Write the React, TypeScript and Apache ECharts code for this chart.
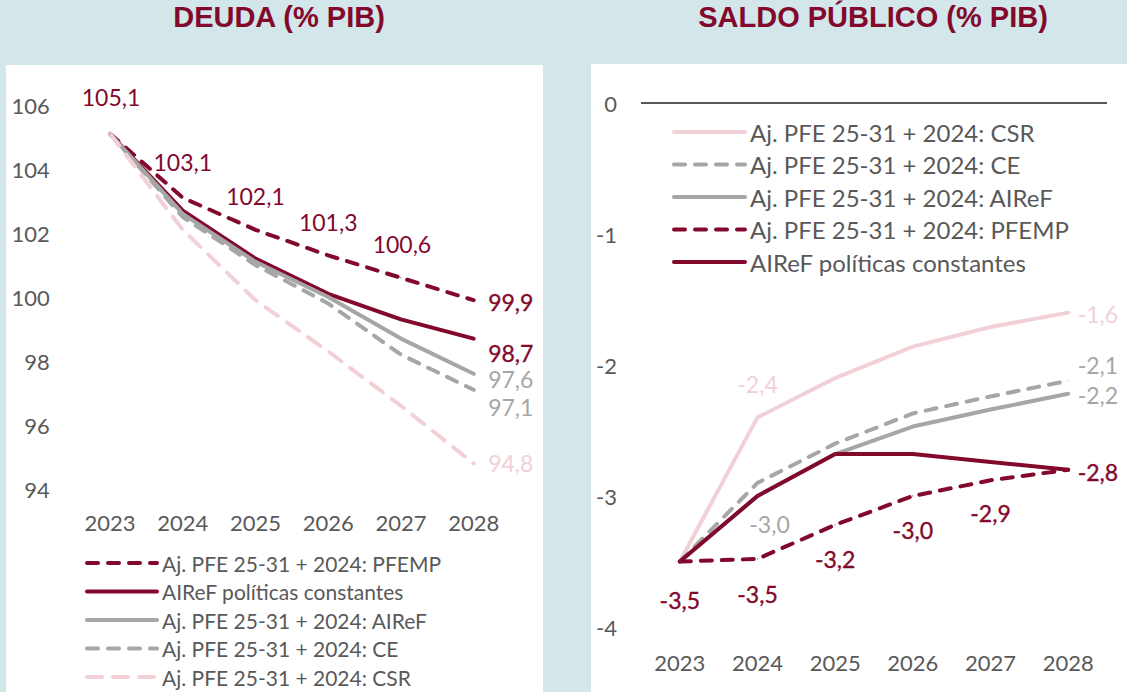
import React, { useEffect, useRef } from "react";
import * as echarts from "echarts";

// ---------- data ----------
const YEARS = ["2023", "2024", "2025", "2026", "2027", "2028"];

const N_PFEMP = "Aj. PFE 25-31 + 2024: PFEMP";
const N_CONST = "AIReF políticas constantes";
const N_AIREF = "Aj. PFE 25-31 + 2024: AIReF";
const N_CE = "Aj. PFE 25-31 + 2024: CE";
const N_CSR = "Aj. PFE 25-31 + 2024: CSR";

// Deuda (% PIB)
const DEBT_PFEMP = [105.1, 103.1, 102.1, 101.3, 100.6, 99.9];
const DEBT_CONST = [105.1, 102.7, 101.2, 100.1, 99.3, 98.7];
const DEBT_AIREF = [105.1, 102.6, 101.1, 100.0, 98.7, 97.6];
const DEBT_CE = [105.1, 102.5, 101.0, 99.8, 98.2, 97.1];
const DEBT_CSR = [105.1, 102.1, 99.9, 98.3, 96.6, 94.8];

// Saldo público (% PIB)
const BAL_CSR = [-3.5, -2.4, -2.1, -1.86, -1.71, -1.6];
const BAL_CE = [-3.5, -2.9, -2.6, -2.37, -2.24, -2.12];
const BAL_AIREF = [-3.5, -3.0, -2.68, -2.47, -2.34, -2.22];
const BAL_PFEMP = [-3.5, -3.48, -3.22, -3.0, -2.88, -2.8];
const BAL_CONST = [-3.5, -3.0, -2.68, -2.68, -2.74, -2.8];

const DEBT_AXIS = { min: 94, max: 106, interval: 2 };
const BAL_AXIS = { min: -4, max: 0, interval: 1 };

const TITLE_DEBT = "DEUDA (% PIB)";
const TITLE_BAL = "SALDO PÚBLICO (% PIB)";

// ---------- styles ----------
const FONT = "Lato";
const DARK = "#82092c";
const GREY = "#a6a6a6";
const PINK = "#f2d1d6";
const TXT = "#595959";
const BG = "#d3e6ea";

const DASH = [11, 10];
const DASH_PINK = [15, 11];

const fmt = (v: number) => v.toFixed(1).replace(".", ",");

type Lbl = { position: string; distance: number; offset?: number[]; bold?: boolean } | null;

function items(values: number[], labels: Lbl[], color: string) {
  return values.map((v, i) => {
    const l = labels[i];
    if (!l) return { value: v, label: { show: false } };
    return {
      value: v,
      label: {
        show: true,
        position: l.position,
        distance: l.distance,
        offset: l.offset || [0, 0],
        color,
        fontFamily: FONT,
        fontSize: 23,
        lineHeight: 23,
        fontWeight: "normal",
        textBorderColor: l.bold ? color : "transparent",
        textBorderWidth: l.bold ? 0.35 : 0,
        formatter: (p: any) => fmt(p.value),
      },
    };
  });
}

function line(
  name: string,
  values: number[],
  idx: number,
  color: string,
  type: any,
  labels: Lbl[]
) {
  return {
    name,
    type: "line",
    xAxisIndex: idx,
    yAxisIndex: idx,
    symbol: "circle",
    symbolSize: 1,
    showSymbol: true,
    showAllSymbol: true,
    silent: true,
    lineStyle: { color, width: 4, type, cap: "round", join: "round" },
    itemStyle: { color },
    label: { show: false },
    emphasis: { disabled: true },
    data: items(values, labels, color),
  };
}

const none6: Lbl[] = [null, null, null, null, null, null];
const endL = (offY: number, bold = false): Lbl[] => [
  null, null, null, null, null,
  { position: "right", distance: 14, offset: [0, offY], bold },
];
const endR = (offY: number, bold = false): Lbl[] => [
  null, null, null, null, null,
  { position: "right", distance: 9, offset: [0, offY], bold },
];

export default function App() {
  const ref = useRef<HTMLDivElement>(null);
  useEffect(() => {
    if (!ref.current) return;
    const chart = echarts.init(ref.current, undefined, { renderer: "svg" });

    const axisLabel = { color: TXT, fontFamily: FONT, fontSize: 22 };

    const leftSeries = [
      line(N_PFEMP, DEBT_PFEMP, 0, DARK, DASH, [
        { position: "top", distance: 23, offset: [1, -2] },
        { position: "top", distance: 23, offset: [0, -1] },
        { position: "top", distance: 22, offset: [0, 0] },
        { position: "top", distance: 21, offset: [0, 0] },
        { position: "top", distance: 22, offset: [1, 0] },
        { position: "right", distance: 14, offset: [0, 2], bold: true },
      ]),
      line(N_CONST, DEBT_CONST, 0, DARK, "solid", endL(14, true)),
      line(N_AIREF, DEBT_AIREF, 0, GREY, "solid", endL(5)),
      line(N_CE, DEBT_CE, 0, GREY, DASH, endL(17)),
      line(N_CSR, DEBT_CSR, 0, PINK, DASH_PINK, endL(0)),
    ];

    const rightSeries = [
      line(N_CSR, BAL_CSR, 1, PINK, "solid", [
        null,
        { position: "top", distance: 21, offset: [0, 0] },
        null, null, null,
        { position: "right", distance: 9, offset: [0, 1] },
      ]),
      line(N_CE, BAL_CE, 1, GREY, DASH, endR(-16)),
      line(N_AIREF, BAL_AIREF, 1, GREY, "solid", [
        null,
        { position: "bottom", distance: 16, offset: [12, 0] },
        null, null, null,
        { position: "right", distance: 9, offset: [0, 1] },
      ]),
      line(N_PFEMP, BAL_PFEMP, 1, DARK, DASH, [
        { position: "bottom", distance: 22, offset: [0, 4], bold: true },
        { position: "bottom", distance: 22, offset: [0, 1], bold: true },
        { position: "bottom", distance: 22, offset: [0, 0], bold: true },
        { position: "bottom", distance: 22, offset: [0, 0], bold: true },
        { position: "bottom", distance: 21, offset: [0, 0], bold: true },
        { position: "right", distance: 9, offset: [0, 2], bold: true },
      ]),
      line(N_CONST, BAL_CONST, 1, DARK, "solid", none6),
    ];
    (rightSeries[0] as any).markLine = {
      silent: true,
      symbol: "none",
      label: { show: false },
      lineStyle: { color: TXT, width: 2, type: "solid" },
      data: [{ yAxis: 0 }],
    };

    const legendItem = (name: string, color: string, type: any) => ({
      name,
      itemStyle: { color: "rgba(0,0,0,0)", borderColor: "rgba(0,0,0,0)", borderWidth: 0, opacity: 0 },
      lineStyle: { color, width: 4, type, cap: "round", opacity: 1 },
    });

    chart.setOption({
      animation: false,
      backgroundColor: BG,
      textStyle: { fontFamily: FONT },
      title: [
        {
          text: TITLE_DEBT,
          left: 279,
          top: 2,
          padding: 0,
          textAlign: "center",
          textStyle: { fontFamily: "Liberation Sans", fontWeight: "bold", fontSize: 29, lineHeight: 29, color: DARK },
        },
        {
          text: TITLE_BAL,
          left: 873,
          top: 2,
          padding: 0,
          textAlign: "center",
          textStyle: { fontFamily: "Liberation Sans", fontWeight: "bold", fontSize: 29, lineHeight: 29, color: DARK },
        },
      ],
      graphic: [
        { type: "rect", z: -10, silent: true, shape: { x: 6, y: 65, width: 537, height: 627 }, style: { fill: "#ffffff" } },
        { type: "rect", z: -10, silent: true, shape: { x: 591, y: 64, width: 536, height: 628 }, style: { fill: "#ffffff" } },
      ],
      grid: [
        { left: 73.7, top: 105, width: 436.3, height: 384 },
        { left: 641, top: 103, width: 466, height: 524 },
      ],
      xAxis: [0, 1].map((i) => ({
        type: "category",
        gridIndex: i,
        data: YEARS,
        boundaryGap: true,
        axisLine: { show: false },
        axisTick: { show: false },
        splitLine: { show: false },
        axisLabel: { ...axisLabel, margin: i === 0 ? 22 : 24, interval: 0 },
      })),
      yAxis: [
        {
          type: "value",
          gridIndex: 0,
          ...DEBT_AXIS,
          axisLine: { show: false },
          axisTick: { show: false },
          splitLine: { show: false },
          axisLabel: { ...axisLabel, margin: 24 },
        },
        {
          type: "value",
          gridIndex: 1,
          ...BAL_AXIS,
          axisLine: { show: false },
          axisTick: { show: false },
          splitLine: { show: false },
          axisLabel: { ...axisLabel, margin: 24 },
        },
      ],
      legend: [
        {
          orient: "vertical",
          left: 85,
          top: 552,
          padding: 0,
          itemWidth: 70,
          itemHeight: 14,
          itemGap: 6.5,
          selectedMode: false,
          textStyle: { color: TXT, fontFamily: FONT, fontSize: 21, lineHeight: 22 },
          data: [
            legendItem(N_PFEMP, DARK, DASH),
            legendItem(N_CONST, DARK, "solid"),
            legendItem(N_AIREF, GREY, "solid"),
            legendItem(N_CE, GREY, DASH),
            legendItem(N_CSR, PINK, DASH_PINK),
          ],
        },
        {
          orient: "vertical",
          left: 672,
          top: 119.5,
          padding: 0,
          itemWidth: 71,
          itemHeight: 14,
          itemGap: 7.5,
          selectedMode: false,
          textStyle: { color: TXT, fontFamily: FONT, fontSize: 24, lineHeight: 25 },
          data: [
            legendItem(N_CSR, PINK, "solid"),
            legendItem(N_CE, GREY, DASH),
            legendItem(N_AIREF, GREY, "solid"),
            legendItem(N_PFEMP, DARK, DASH),
            legendItem(N_CONST, DARK, "solid"),
          ],
        },
      ],
      series: [...leftSeries, ...rightSeries],
    });

    return () => chart.dispose();
  }, []);

  return (
    <div
      ref={ref}
      style={{ position: "absolute", left: 0, top: 0, width: 1127, height: 692 }}
    />
  );
}
